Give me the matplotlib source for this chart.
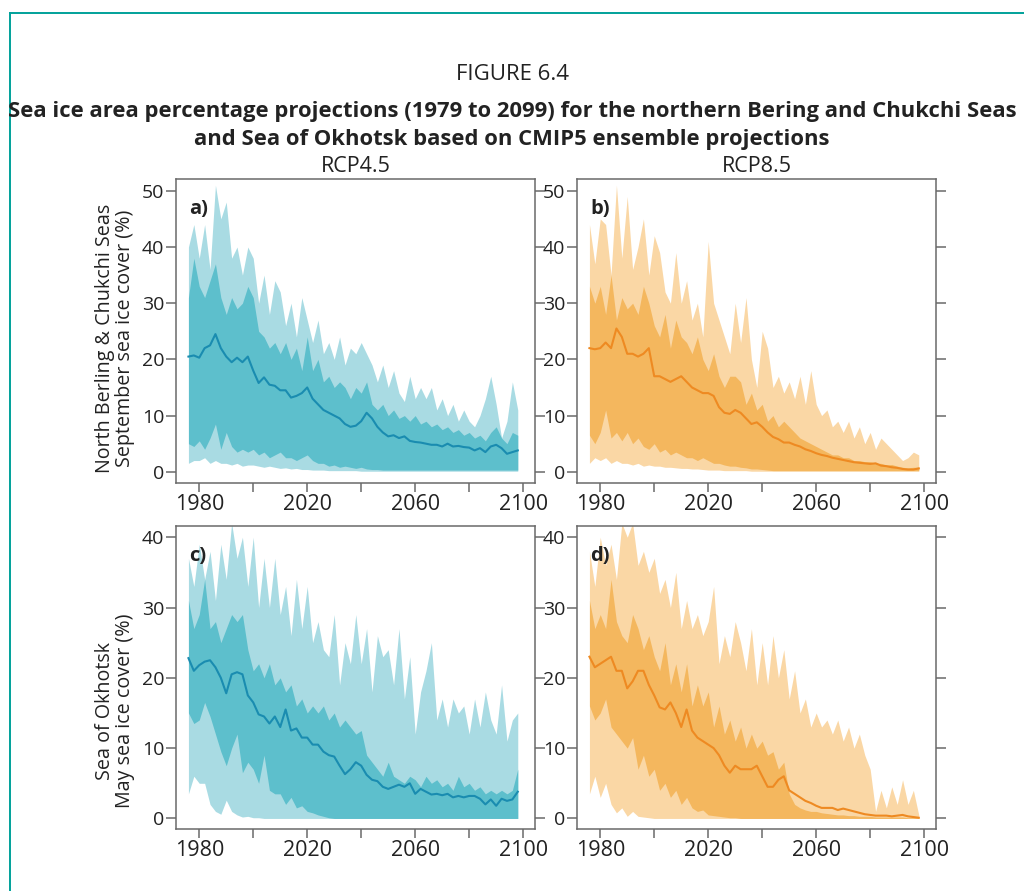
import matplotlib
matplotlib.use('Agg')
import matplotlib.pyplot as plt
import numpy as np
from matplotlib.lines import Line2D

plt.rcParams['font.family'] = ['Open Sans', 'DejaVu Sans']

# years, every second year
years = np.arange(1976, 2100, 2)

# ---- a) Bering/Chukchi, September, RCP4.5
a_mean = [20.5, 20.7,
          20.3, 22.0, 22.5, 24.5, 22.0,
          20.5, 19.5, 20.3, 19.5, 20.5,
          18.0, 15.8, 16.8, 15.5, 15.3,
          14.5, 14.5, 13.2, 13.5, 14.0,
          15.0, 13.0, 12.0, 11.0, 10.5,
          10.0, 9.5, 8.5, 8.0, 8.2,
          9.0, 10.5, 9.5, 8.0, 7.0,
          6.3, 6.5, 6.0, 6.3, 5.5,
          5.3, 5.2, 5.0, 4.8, 4.8,
          4.5, 5.0, 4.5, 4.6, 4.4,
          4.3, 3.8, 4.2, 3.5, 4.5,
          4.8, 4.2, 3.2, 3.5, 3.8]
a_max = [40, 44,
         38, 44, 36, 51, 45,
         48, 38, 40, 35, 40,
         38, 30, 35, 28, 34,
         32, 26, 30, 24, 31,
         27, 23, 27, 21, 23,
         20, 24, 19, 22, 21,
         23, 21, 19, 16, 19,
         15, 18, 14, 12.5, 17,
         13, 15, 13, 15, 11,
         13, 10, 12, 9, 11,
         9, 8, 10, 13, 17,
         12, 6, 9, 16, 11]
a_q75 = [31, 38,
         33, 31, 34, 37, 31,
         28, 31, 29, 30, 33,
         31, 25, 24, 22, 23,
         21, 23, 20, 22, 18,
         24, 18, 20, 16, 17,
         15, 16, 15, 13, 15,
         14, 16, 12, 11, 12,
         10, 11, 9.5, 10, 9,
         10, 8.5, 9, 8, 8.5,
         7.5, 8, 7, 7.5, 6.5,
         7, 6, 6.5, 5.5, 7,
         8, 6, 5, 7, 6.5]
a_q25 = [5, 4.5,
         5.5, 4, 6, 8.5, 4,
         7, 4.5, 3.5, 4, 3.5,
         4, 3, 3.5, 2.5, 3,
         3.5, 2.5, 2.5, 2, 2.5,
         3, 2, 1.5, 1.5, 1,
         1.2, 0.8, 1, 0.8, 0.6,
         0.8, 0.5, 0.4, 0.4, 0.3,
         0.3, 0.3, 0.3, 0.3, 0.3,
         0.3, 0.3, 0.3, 0.3, 0.3,
         0.3, 0.3, 0.3, 0.3, 0.3,
         0.3, 0.3, 0.3, 0.3, 0.3,
         0.3, 0.3, 0.3, 0.3, 0.3]
a_min = [1.5, 2,
         2, 2.5, 1.5, 2, 1.5,
         1.5, 1.2, 1.5, 1.0, 1.2,
         1.2, 1.0, 0.8, 1.0, 0.8,
         0.6, 0.7, 0.5, 0.6, 0.4,
         0.4, 0.3, 0.3, 0.3, 0.2,
         0.2, 0.2, 0.2, 0.2, 0.2,
         0.1, 0.1, 0.1, 0.1, 0.1,
         0.1, 0.1, 0.1, 0.1, 0.1,
         0.1, 0.1, 0.1, 0.1, 0.1,
         0.1, 0.1, 0.1, 0.1, 0.1,
         0.1, 0.1, 0.1, 0.1, 0.1,
         0.1, 0.1, 0.1, 0.1, 0.1]

# ---- b) Bering/Chukchi, September, RCP8.5
b_mean = [22.0, 21.8,
          22.0, 23.0, 22.0, 25.5, 24.0,
          21.0, 21.0, 20.5, 21.0, 22.0,
          17.0, 17.0, 16.5, 16.0, 16.5,
          17.0, 16.0, 15.0, 14.5, 14.0,
          14.0, 13.5, 11.5, 10.5, 10.3,
          11.0, 10.5, 9.5, 8.5, 8.8,
          8.0, 7.0, 6.2, 5.8, 5.2,
          5.2, 4.8, 4.5, 4.0, 3.7,
          3.3, 3.0, 2.8, 2.5, 2.3,
          2.1, 1.9, 1.7, 1.6, 1.5,
          1.4, 1.5, 1.1, 1.0, 0.8,
          0.7, 0.5, 0.4, 0.4, 0.6]
b_max = [44, 37,
         45, 44, 35, 51, 38,
         49, 36, 40, 45, 35,
         42, 39, 32, 30, 39,
         30, 34, 27, 30, 24,
         41, 30, 27, 24, 21,
         30, 23, 31, 20, 15,
         25, 22, 15, 17, 14,
         16, 13, 17, 12, 18,
         12, 10, 11, 8, 9,
         7, 9, 6, 8, 5,
         7, 4, 6, 5, 4,
         3, 2, 2.5, 3.5, 3]
b_q75 = [33, 30,
         33, 28, 35, 27, 31,
         29, 30, 28, 33, 30,
         26, 24, 28, 22, 27,
         24, 23, 21, 24, 20,
         18, 21, 17, 15, 17,
         17, 16, 12, 14, 11,
         12, 9, 10, 8, 9,
         8, 7, 6, 5.5, 5,
         4.5, 4, 3.5, 3, 3,
         2.5, 2.5, 2, 2, 1.8,
         1.8, 1.5, 1.5, 1.2, 1.3,
         1.0, 0.8, 0.7, 0.8, 0.8]
b_q25 = [6.5, 5,
         7, 11, 6, 7, 5.5,
         7, 5, 6, 4.5, 4,
         5, 3.5, 4, 3, 3.5,
         3, 2.5, 2.5, 2, 2.5,
         2, 1.5, 1.5, 1.2, 1.0,
         1.0, 0.8, 0.7, 0.5, 0.5,
         0.4, 0.3, 0.2, 0.2, 0.2,
         0.2, 0.2, 0.2, 0.2, 0.2,
         0.2, 0.2, 0.2, 0.2, 0.2,
         0.2, 0.2, 0.2, 0.2, 0.2,
         0.2, 0.2, 0.2, 0.2, 0.2,
         0.2, 0.2, 0.2, 0.2, 0.2]
b_min = [1.5, 2.5,
         2, 2.5, 1.5, 2, 1.5,
         1.5, 1.2, 1.5, 1.0, 1.2,
         1.0, 1.0, 0.8, 0.8, 0.7,
         0.6, 0.6, 0.5, 0.5, 0.4,
         0.3, 0.3, 0.3, 0.2, 0.2,
         0.2, 0.2, 0.2, 0.1, 0.1,
         0.1, 0.1, 0.1, 0.1, 0.1,
         0.1, 0.1, 0.1, 0.1, 0.1,
         0.1, 0.1, 0.1, 0.1, 0.1,
         0.1, 0.1, 0.1, 0.1, 0.1,
         0.1, 0.1, 0.1, 0.1, 0.1,
         0.1, 0.1, 0.1, 0.1, 0.1]

# ---- c) Okhotsk, May, RCP4.5
c_mean = [22.8, 21.0,
          21.8, 22.3, 22.5, 21.5, 20.0,
          17.8, 20.5, 20.8, 20.5, 17.5,
          16.5, 14.8, 14.5, 13.5, 14.5,
          13.0, 15.5, 12.5, 12.8, 11.5,
          11.5, 10.5, 10.5, 9.5, 9.0,
          8.8, 7.5, 6.3, 7.0, 8.0,
          7.5, 6.2, 5.5, 5.3, 4.5,
          4.2, 4.5, 4.8, 4.5, 5.0,
          3.5, 4.2, 3.8, 3.4, 3.5,
          3.3, 3.5, 3.0, 3.2, 3.0,
          3.2, 3.2, 2.8, 2.0, 2.7,
          1.8, 2.8, 2.5, 2.7, 3.8]
c_max = [37, 33,
         39, 34, 38, 31, 39,
         34, 42, 37, 40, 33,
         40, 30, 37, 30, 37,
         29, 33, 26, 34, 27,
         33, 25, 28, 24, 23,
         29, 19, 25, 22, 29,
         22, 27, 18, 26, 23,
         24, 19, 27, 17, 23,
         12, 18, 21, 25, 14,
         17, 13, 17, 15, 16,
         12, 17, 13, 18, 14,
         12, 19, 11, 14, 15]
c_q75 = [31, 27,
         29, 34, 27, 28, 25,
         27, 29, 28, 29, 24,
         21, 22, 20, 22, 19,
         20, 18, 19, 16, 17,
         15, 16, 15, 16, 14,
         15, 13, 14, 13, 12,
         12.5, 9, 8, 7, 6,
         8, 6, 5.5, 5, 6,
         5.5, 4.5, 6, 5, 5.5,
         4.5, 5, 4, 6, 4.5,
         5, 4, 4.5, 3.5, 4,
         3.5, 4, 3.5, 4, 7]
c_q25 = [15, 13.5,
         14, 16.5, 14.5, 12, 9.5,
         7.5, 10, 12, 6.5, 8,
         7, 5, 9, 4, 3.5,
         3.5, 2, 3, 1.5, 1.8,
         1, 0.8, 0.5, 0.3, 0.1,
         0, 0, 0, 0, 0,
         0, 0, 0, 0, 0,
         0, 0, 0, 0, 0,
         0, 0, 0, 0, 0,
         0, 0, 0, 0, 0,
         0, 0, 0, 0, 0,
         0, 0, 0, 0, 0]
c_min = [3.5, 6,
         5, 5, 2, 1, 0.6,
         2.6, 1, 0.5, 0.2, 0.3,
         0.1, 0.1, 0, 0, 0,
         0, 0, 0, 0, 0,
         0, 0, 0, 0, 0,
         0, 0, 0, 0, 0,
         0, 0, 0, 0, 0,
         0, 0, 0, 0, 0,
         0, 0, 0, 0, 0,
         0, 0, 0, 0, 0,
         0, 0, 0, 0, 0,
         0, 0, 0, 0, 0]

# ---- d) Okhotsk, May, RCP8.5
d_mean = [23.0, 21.5,
          22.0, 22.5, 23.0, 21.0, 21.0,
          18.5, 19.5, 21.0, 21.0, 19.0,
          17.5, 15.8, 15.5, 16.5, 15.0,
          13.0, 15.5, 12.5, 11.5, 11.0,
          10.5, 10.0, 9.0, 7.5, 6.5,
          7.5, 7.0, 7.0, 7.0, 7.5,
          6.0, 4.5, 4.5, 5.5, 6.0,
          4.0, 3.5, 3.0, 2.5, 2.2,
          1.8, 1.5, 1.5, 1.5, 1.2,
          1.4, 1.2, 1.0, 0.8, 0.6,
          0.5, 0.4, 0.4, 0.4, 0.3,
          0.4, 0.5, 0.3, 0.2, 0.1]
d_max = [38, 33,
         40, 36, 39, 34, 42,
         40, 42, 36, 38, 35,
         37, 32, 34, 30, 35,
         27, 31, 27, 29, 26,
         28, 33, 22, 26, 23,
         28, 25, 21, 27, 19,
         25, 19, 26, 20, 24,
         17, 21, 15, 17, 13,
         15, 13, 14, 12, 14,
         11, 13, 10, 12, 9,
         7, 1, 4, 1.5, 4.5,
         2, 5.5, 2, 4, 0.5]
d_q75 = [31, 27,
         29, 27, 34, 28, 26,
         25, 29, 27, 24, 26,
         23, 21, 25, 19, 22,
         18, 22, 16, 19, 16,
         18, 13, 16, 12, 14,
         11, 13, 10, 12, 10,
         11, 9, 9.5, 7, 8,
         3.5, 2, 1.5, 1.2, 1.0,
         1.0, 0.8, 0.7, 0.6, 0.5,
         0.5, 0.4, 0.4, 0.3, 0.3,
         0.3, 0.2, 0.2, 0.2, 0.2,
         0.2, 0.2, 0.1, 0.1, 0.1]
d_q25 = [16, 14,
         15, 17, 13, 12, 11,
         10, 11.5, 7, 9, 6,
         7, 4, 5, 3, 4,
         2, 3, 1.5, 1, 1.2,
         0.5, 0.4, 0.3, 0.2, 0.1,
         0.1, 0, 0, 0, 0,
         0, 0, 0, 0, 0,
         0, 0, 0, 0, 0,
         0, 0, 0, 0, 0,
         0, 0, 0, 0, 0,
         0, 0, 0, 0, 0,
         0, 0, 0, 0, 0]
d_min = [3.5, 6,
         3, 5, 2, 0.8, 1.5,
         0.3, 1, 0.3, 0.2, 0.1,
         0, 0, 0, 0, 0,
         0, 0, 0, 0, 0,
         0, 0, 0, 0, 0,
         0, 0, 0, 0, 0,
         0, 0, 0, 0, 0,
         0, 0, 0, 0, 0,
         0, 0, 0, 0, 0,
         0, 0, 0, 0, 0,
         0, 0, 0, 0, 0,
         0, 0, 0, 0, 0]

xticks = [1980, 2000, 2020, 2040, 2060, 2080, 2100]
xticklabels = ['1980', '', '2020', '', '2060', '', '2100']

teal = ('#a9dbe3', '#5dbfcc', '#1a8cb0')
orange = ('#fad7a5', '#f4b75e', '#ee8a22')
axis_gray = '#6a6a6a'
txt = '#222222'

fig = plt.figure(figsize=(10.24, 8.91), dpi=100)


def panel(rect, mn, q25, q75, mx, mean, cols, ylim, yticks, tag):
    ax = fig.add_axes(rect)
    ax.fill_between(years, mn, mx, color=cols[0], lw=0)
    ax.fill_between(years, q25, q75, color=cols[1], lw=0)
    ax.plot(years, mean, color=cols[2], lw=1.5)
    ax.set_xlim(1971.4, 2104.4)
    ax.set_ylim(*ylim)
    ax.set_xticks(xticks)
    ax.set_xticklabels(xticklabels)
    ax.set_yticks(yticks)
    for s in ax.spines.values():
        s.set_color(axis_gray)
        s.set_linewidth(1.1)
    ax.tick_params(axis='y', left=True, right=True, direction='out', length=7.5,
                   width=1.1, color=axis_gray, pad=1, labelsize=14, labelcolor=txt)
    ax.tick_params(axis='x', bottom=True, top=False, direction='out', length=6.5,
                   width=1.1, color=axis_gray, pad=1.5, labelsize=15.5, labelcolor=txt)
    ax.text(0.037, 0.9, tag, transform=ax.transAxes, fontsize=14.5,
            fontweight='bold', va='center', ha='left', color=txt)
    return ax


panel([0.1719, 0.4579, 0.3506, 0.3412], a_min, a_q25, a_q75, a_max, a_mean,
      teal, (-2.0, 52.1), [0, 10, 20, 30, 40, 50], 'a)')
panel([0.5635, 0.4579, 0.3506, 0.3412], b_min, b_q25, b_q75, b_max, b_mean,
      orange, (-2.0, 52.1), [0, 10, 20, 30, 40, 50], 'b)')
panel([0.1719, 0.0696, 0.3506, 0.3401], c_min, c_q25, c_q75, c_max, c_mean,
      teal, (-1.5, 41.6), [0, 10, 20, 30, 40], 'c)')
panel([0.5635, 0.0696, 0.3506, 0.3401], d_min, d_q25, d_q75, d_max, d_mean,
      orange, (-1.5, 41.6), [0, 10, 20, 30, 40], 'd)')

# titles
fig.text(0.5, 1 - 75 / 891, 'FIGURE 6.4', ha='center', va='center', fontsize=16, color=txt)
fig.text(0.5, 1 - 111 / 891, 'Sea ice area percentage projections (1979 to 2099) for the northern Bering and Chukchi Seas',
         ha='center', va='center', fontsize=15.8, fontweight='bold', color=txt)
fig.text(0.5, 1 - 139 / 891, 'and Sea of Okhotsk based on CMIP5 ensemble projections',
         ha='center', va='center', fontsize=15.8, fontweight='bold', color=txt)
fig.text(355.5 / 1024, 1 - 166 / 891, 'RCP4.5', ha='center', va='center', fontsize=15.5, color=txt)
fig.text(756.5 / 1024, 1 - 166 / 891, 'RCP8.5', ha='center', va='center', fontsize=15.5, color=txt)

# y labels
fig.text(115 / 1024, 1 - 338 / 891, 'North Berling & Chukchi Seas\nSeptember sea ice cover (%)',
         rotation=90, ha='center', va='center', multialignment='center',
         fontsize=14.2, color=txt, linespacing=1.05)
fig.text(115 / 1024, 1 - 711 / 891, 'Sea of Okhotsk\nMay sea ice cover (%)',
         rotation=90, ha='center', va='center', multialignment='center',
         fontsize=14.2, color=txt, linespacing=1.05)

# teal frame (left and top edges)
fx = 9.5 / 1024
fy = 1 - 12.5 / 891
fig.add_artist(Line2D([fx, fx], [0, fy], transform=fig.transFigure, color='#00a19a', lw=1.4))
fig.add_artist(Line2D([fx, 1], [fy, fy], transform=fig.transFigure, color='#00a19a', lw=1.4))

fig.savefig('out.png', dpi=100)
